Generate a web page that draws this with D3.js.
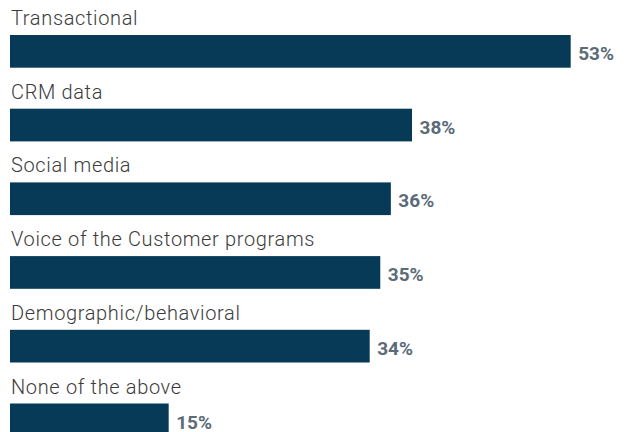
<!DOCTYPE html>
<html><head><meta charset="utf-8">
<script src="https://cdn.jsdelivr.net/npm/d3@7"></script>
<style>body{margin:0;background:#fff}svg{display:block}</style>
</head><body>
<svg id="c" width="627" height="432"></svg>
<script>
const categories = ["Transactional","CRM data","Social media","Voice of the Customer programs","Demographic/behavioral","None of the above"];
const values = [53,38,36,35,34,15];

const svg = d3.select("#c");
const x = d3.scaleLinear().domain([0,53]).range([10,570.7]);
const y = d3.scaleBand().domain(categories).range([35, 35+73.7*6]).paddingInner(0).paddingOuter(0);
const barH = 32.7;

const g = svg.selectAll("g.row").data(categories).enter().append("g");
g.append("text")
  .attr("x", 11).attr("y", d => y(d) - 10)
  .attr("font-family","Roboto").attr("font-weight",300).attr("font-size",20)
  .attr("letter-spacing",0.65)
  .attr("fill","#3b3b3b").text(d => d);
g.append("rect")
  .attr("x", x(0)).attr("y", d => y(d))
  .attr("width", (d,i) => x(values[i]) - x(0)).attr("height", barH)
  .attr("fill","#063a57");
g.append("text")
  .attr("x", (d,i) => x(values[i]) + 7.5).attr("y", d => y(d) + 25)
  .attr("font-family","Roboto").attr("font-weight",700).attr("font-size",19)
  .attr("fill","#5b6b78").text((d,i) => values[i] + "%");
</script>
</body></html>
